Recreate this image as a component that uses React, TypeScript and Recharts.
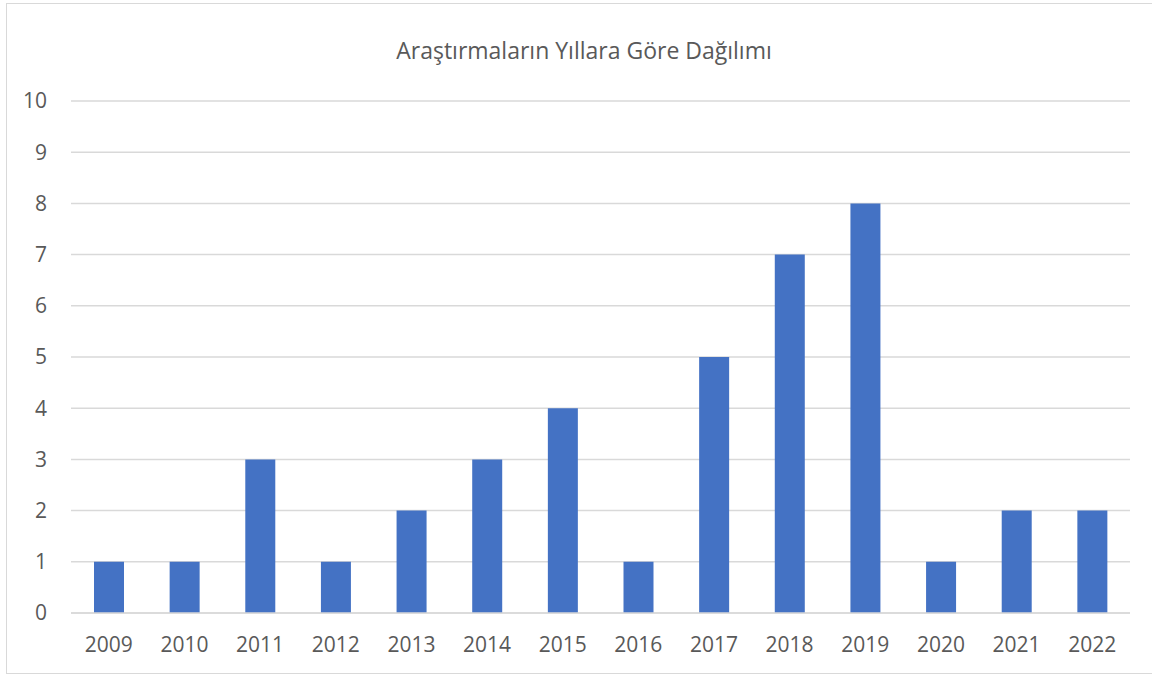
import React from 'react';
import { BarChart, Bar, XAxis, YAxis, CartesianGrid } from 'recharts';

const years = ['2009', '2010', '2011', '2012', '2013', '2014', '2015', '2016', '2017', '2018', '2019', '2020', '2021', '2022'];
const counts = [1, 1, 3, 1, 2, 3, 4, 1, 5, 7, 8, 1, 2, 2];
const yTicks = [0, 1, 2, 3, 4, 5, 6, 7, 8, 9, 10];

const data = years.map((year, i) => ({ year, count: counts[i] }));

const textColor = '#595959';
const gridColor = '#D9D9D9';
const font = '"Open Sans", "Noto Sans", sans-serif';

export default function App() {
  return (
    <div style={{ position: 'absolute', left: 0, top: 0, width: 1152, height: 675, background: '#fff', overflow: 'hidden' }}>
      <div style={{
        position: 'absolute',
        left: 6,
        top: 3,
        width: 1160,
        height: 669,
        border: `1px solid ${gridColor}`,
      }} />
      <div style={{
        position: 'absolute',
        left: 0,
        top: 34,
        width: 1168,
        textAlign: 'center',
        fontFamily: font,
        fontSize: 23,
        color: textColor,
      }}>
        Araştırmaların Yıllara Göre Dağılımı
      </div>
      <BarChart
        width={1152}
        height={675}
        data={data}
        margin={{ top: 101, right: 22, bottom: 0, left: 0 }}
        style={{ position: 'absolute', left: 0, top: 0 }}
      >
        <CartesianGrid vertical={false} stroke={gridColor} strokeWidth={1.5} />
        <XAxis
          dataKey="year"
          axisLine={{ stroke: gridColor, strokeWidth: 1.5 }}
          tickLine={false}
          tickSize={0}
          tickMargin={24}
          height={62}
          tick={{ fill: textColor, fontSize: 21, fontFamily: font }}
        />
        <YAxis
          domain={[0, 10]}
          ticks={yTicks}
          width={71}
          axisLine={false}
          tickLine={false}
          tickSize={0}
          tickMargin={24}
          interval={0}
          tick={{ fill: textColor, fontSize: 21, fontFamily: font }}
        />
        <Bar dataKey="count" fill="#4472C4" barSize={30} isAnimationActive={false} />
      </BarChart>
    </div>
  );
}
